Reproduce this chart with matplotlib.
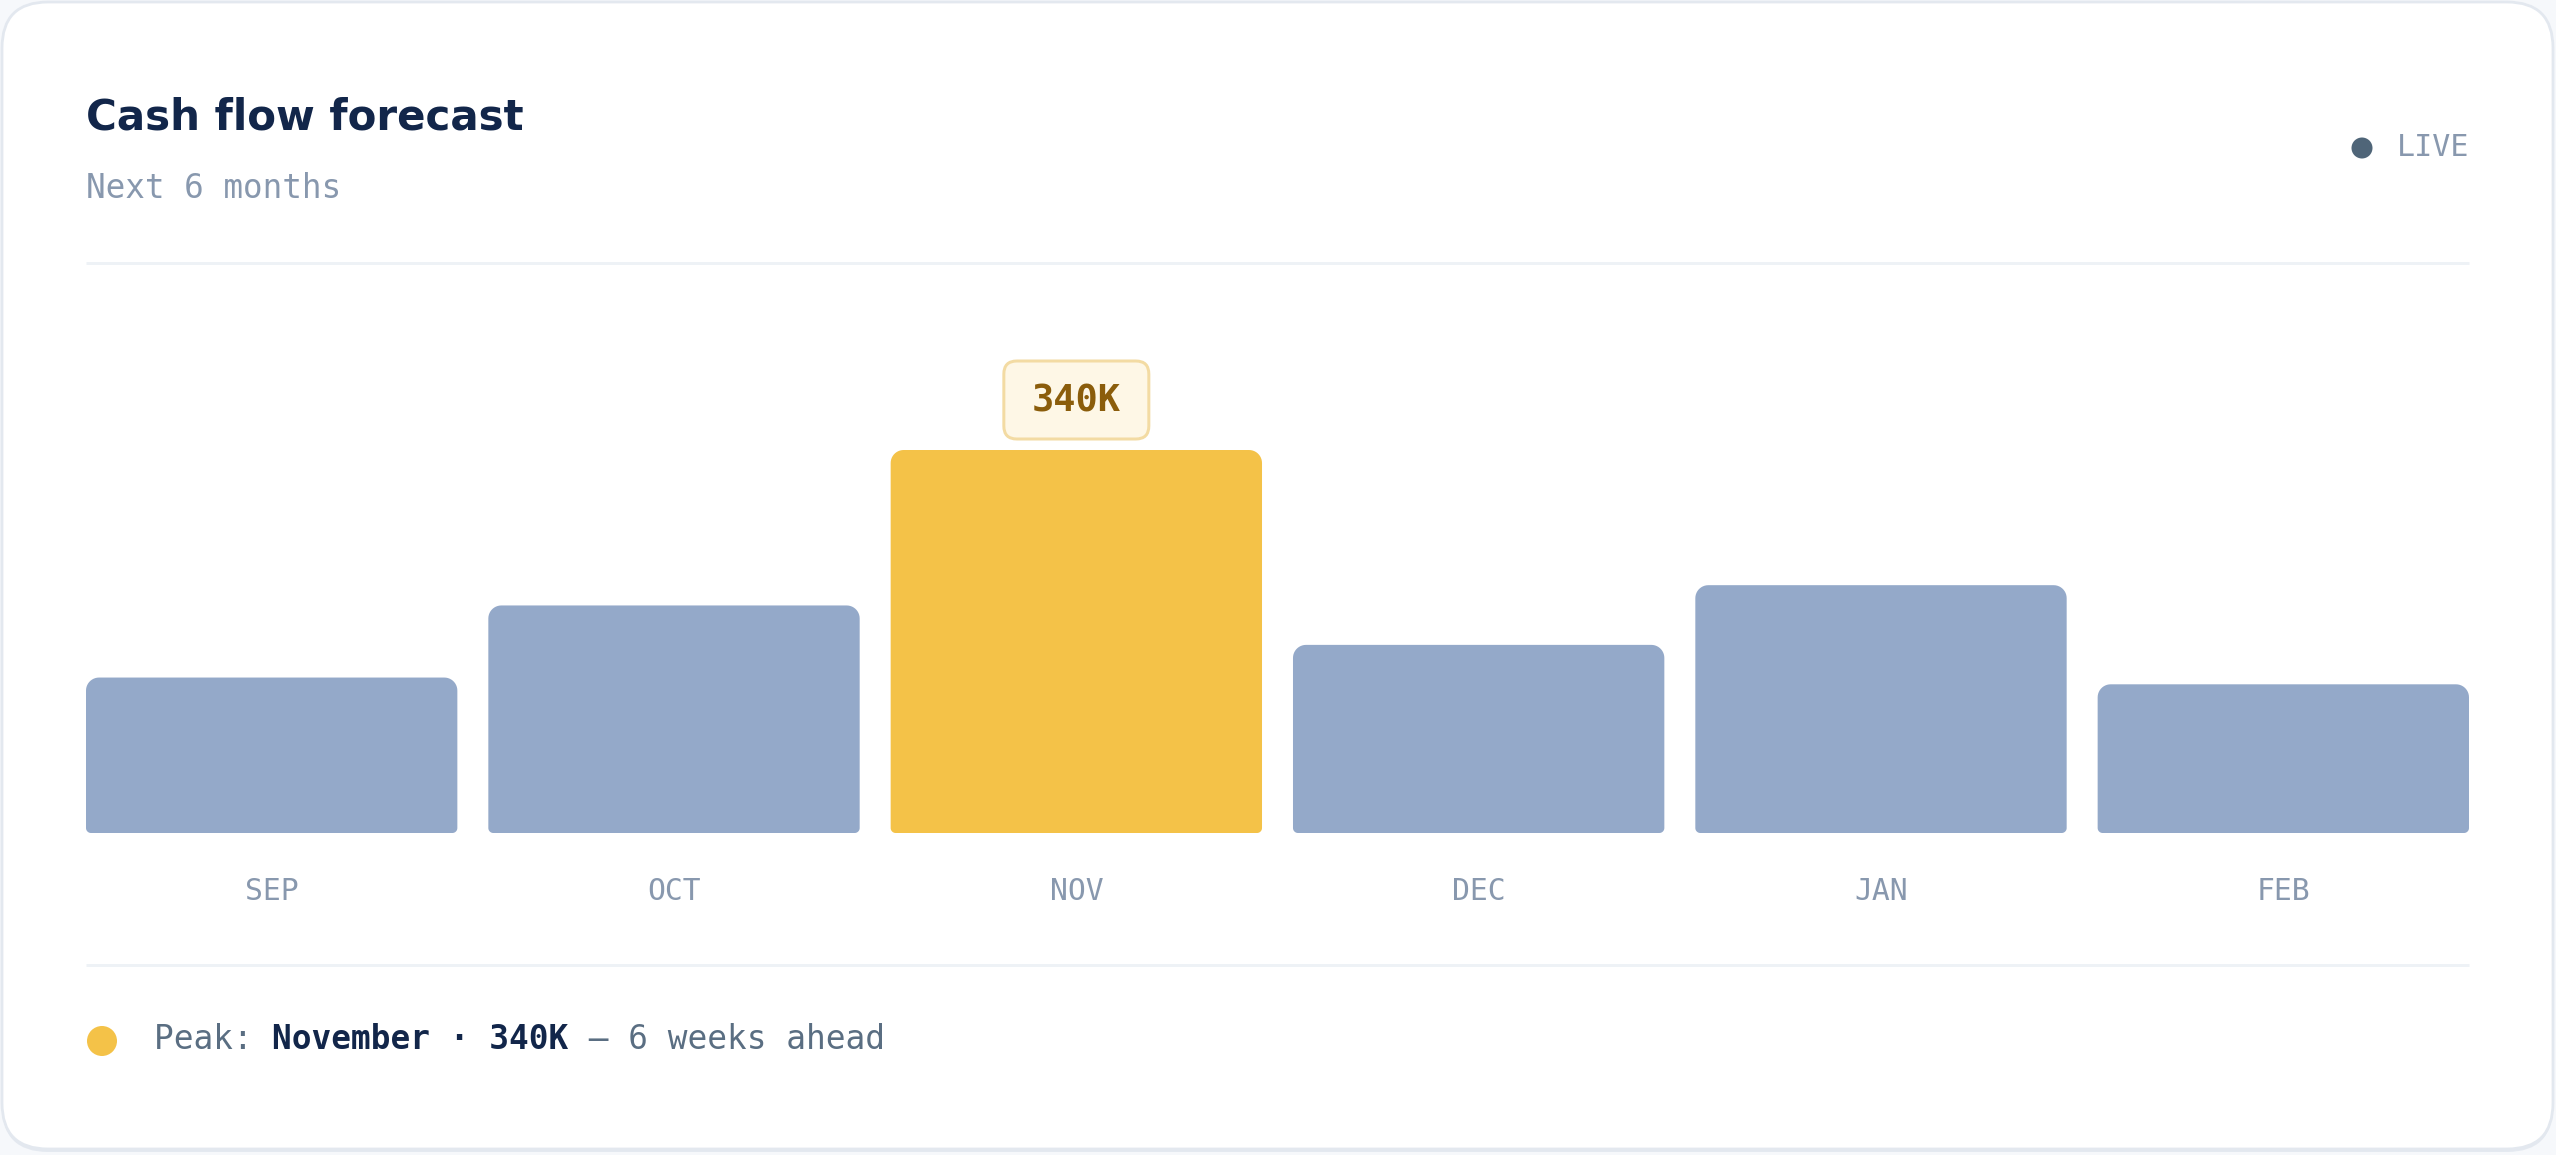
import matplotlib
matplotlib.use("Agg")
import matplotlib.pyplot as plt
import numpy as np
from matplotlib.patches import FancyBboxPatch, Circle, Polygon

# данные
months = ["SEP", "OCT", "NOV", "DEC", "JAN", "FEB"]
cash_k = [138, 202, 340, 167, 220, 132]
peak_name = "November"
title = "Cash flow forecast"
subtitle = "Next 6 months"
lead_text = "6 weeks ahead"

W, H = 2556, 1155
DPI = 100

BAR_BLUE = "#94a9c9"
BAR_GOLD = "#f4c248"
NAVY = "#12264a"
MUTED = "#8898ae"
SLATE = "#5a6e82"
MONO = "DejaVu Sans Mono"


def pt(px):
    # пиксели -> пункты
    return px * 72 / DPI


def rounded_bar(ax, x, y, w, h, r_top, r_bot, color, px_x, px_y):
    # контур столбца: верхние углы скруглены сильнее, нижние чуть-чуть
    def arc(cx, cy, rx, ry, a0, a1):
        t = np.linspace(np.radians(a0), np.radians(a1), 12)
        return np.column_stack([cx + rx * np.cos(t), cy + ry * np.sin(t)])

    tx, ty = r_top / px_x, min(r_top / px_y, h / 2)
    bx, by = r_bot / px_x, min(r_bot / px_y, h / 2)
    pts = np.vstack([
        arc(x + bx, y + by, bx, by, 180, 270),
        arc(x + w - bx, y + by, bx, by, 270, 360),
        arc(x + w - tx, y + h - ty, tx, ty, 0, 90),
        arc(x + tx, y + h - ty, tx, ty, 90, 180),
    ])
    ax.add_patch(Polygon(pts, closed=True, fc=color, ec="none", zorder=2))


def main():
    fig = plt.figure(figsize=(W / DPI, H / DPI), dpi=DPI)
    fig.patch.set_facecolor("#f6f8fb")

    # фон-карточка в пиксельных координатах
    bg = fig.add_axes([0, 0, 1, 1], zorder=0)
    bg.set_xlim(0, W)
    bg.set_ylim(H, 0)
    bg.axis("off")

    bg.add_patch(FancyBboxPatch((2, 5), W - 5, H - 8, boxstyle="round,pad=0,rounding_size=46",
                                fc="#e4e9f0", ec="none"))
    bg.add_patch(FancyBboxPatch((2, 2), W - 5, H - 8, boxstyle="round,pad=0,rounding_size=46",
                                fc="white", ec="#e3e8ef", lw=2))

    # заголовок
    bg.text(86, 129, title, fontsize=pt(42), fontweight="bold", color=NAVY,
            family="DejaVu Sans", va="baseline", ha="left")
    bg.text(86, 198, subtitle, fontsize=pt(32.6), color=MUTED, family=MONO,
            va="baseline", ha="left")

    # LIVE
    bg.add_patch(Circle((2362, 148), 10.5, fc="#4f6578", ec="none"))
    bg.text(2469, 156, "LIVE", fontsize=pt(30), color=MUTED, family=MONO,
            va="baseline", ha="right")

    # разделители
    bg.plot([86, 2469], [262.5, 262.5], color="#eef2f6", lw=pt(3), solid_capstyle="butt")
    bg.plot([86, 2469], [965, 965], color="#eef2f6", lw=pt(3), solid_capstyle="butt")

    # столбцы
    left, right, bottom, top = 86, 2469, 833, 450
    ax = fig.add_axes([left / W, (H - bottom) / H, (right - left) / W, (bottom - top) / H], zorder=1)
    ax.patch.set_alpha(0)
    width = 0.923
    x = list(range(len(months)))
    ax.set_xlim(-width / 2, len(months) - 1 + width / 2)
    ax.set_ylim(0, max(cash_k))
    ax.axis("off")

    peak_i = cash_k.index(max(cash_k))
    colors = [BAR_GOLD if i == peak_i else BAR_BLUE for i in x]
    bars = ax.bar(x, cash_k, width=width, color=colors)

    px_x = (right - left) / (ax.get_xlim()[1] - ax.get_xlim()[0])
    px_y = (bottom - top) / (ax.get_ylim()[1] - ax.get_ylim()[0])
    for rect, c in zip(bars, colors):
        rect.set_visible(False)
        rounded_bar(ax, rect.get_x(), rect.get_y(), rect.get_width(), rect.get_height(),
                    13, 5, c, px_x, px_y)

    # подписи месяцев
    for i, m in enumerate(months):
        disp = ax.transData.transform((i, 0))
        mx, _ = bg.transData.inverted().transform(disp)
        bg.text(mx, 900, m, fontsize=pt(29.7), color=MUTED, family=MONO,
                va="baseline", ha="center")

    # плашка над пиком
    disp = ax.transData.transform((peak_i, cash_k[peak_i]))
    cx, cy = bg.transData.inverted().transform(disp)
    bw_px, bh_px = 145, 78
    by0 = cy - 11
    bg.add_patch(FancyBboxPatch((cx - bw_px / 2, by0 - bh_px), bw_px, bh_px,
                                boxstyle="round,pad=0,rounding_size=13",
                                fc="#fef7e6", ec="#f3dba3", lw=pt(3), zorder=3))
    bg.text(cx, by0 - 27, f"{cash_k[peak_i]}K", fontsize=pt(37), fontweight="bold",
            color="#8b5d0b", family=MONO, va="baseline", ha="center", zorder=4)

    # подвал
    bg.add_patch(Circle((102, 1041), 15, fc=BAR_GOLD, ec="none"))
    fs = 32.8
    cw = 0.6021 * fs
    x0 = 154
    pieces = [("Peak: ", SLATE, "normal"),
              (f"{peak_name} \u00b7 {cash_k[peak_i]}K", NAVY, "bold"),
              (f" \u2014 {lead_text}", SLATE, "normal")]
    n = 0
    for txt, col, wt in pieces:
        bg.text(x0 + n * cw, 1049, txt, fontsize=pt(fs), color=col, fontweight=wt,
                family=MONO, va="baseline", ha="left")
        n += len(txt)

    fig.savefig("out.png", dpi=DPI, facecolor=fig.get_facecolor())


if __name__ == "__main__":
    main()
